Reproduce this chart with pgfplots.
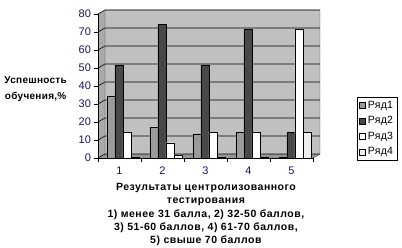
\documentclass[border=0pt]{standalone}
\usepackage{fontspec}
\setmainfont{Liberation Sans}
\usepackage{pgfplots}
\pgfplotsset{compat=1.18}
\definecolor{navy}{RGB}{20,20,100}
\definecolor{wallc}{RGB}{192,192,192}
\definecolor{sidec}{RGB}{170,170,170}
\definecolor{floorc}{RGB}{150,150,150}
\definecolor{s1}{RGB}{155,155,155}
\definecolor{s2}{RGB}{72,72,72}
\definecolor{s3}{RGB}{255,255,255}
\definecolor{s4}{RGB}{238,238,238}
\begin{document}
\begin{tikzpicture}[x=1pt,y=1pt]
\path[use as bounding box] (0,0) rectangle (402,247);
% 3D walls
\fill[wallc] (105,93) rectangle (320,237);
\fill[sidec] (98,89) -- (105,93) -- (105,237) -- (98,233) -- cycle;
\fill[floorc] (98,89) -- (313,89) -- (320,93) -- (105,93) -- cycle;
\foreach \v in {0,...,8} \draw[black, line width=0.6pt] (98,89+18*\v) -- (105,93+18*\v) -- (320,93+18*\v);
\draw[gray!50!black, line width=0.4pt] (105,93) -- (105,237) -- (320,237) -- (320,93) -- (313,89);
\draw[gray!50!black, line width=0.4pt] (98,233) -- (105,237);
\begin{axis}[
  at={(98pt,89pt)}, anchor=south west, scale only axis,
  width=215pt, height=144pt,
  xmin=0.5, xmax=5.5, ymin=0, ymax=80,
  ytick={0,10,...,80},
  xtick={0.5,1.5,...,5.5},
  x tick label as interval,
  xticklabels={1,2,3,4,5},
  axis lines*=left,
  axis line style={black, line width=0.6pt},
  tick align=outside,
  major tick length=3.5pt,
  tick style={black, line width=0.6pt},
  /pgf/number format/assume math mode=true,
  ticklabel style={font=\fontsize{11}{12}\selectfont, text=navy},
  x tick label style={yshift=-2pt},
  ylabel={Успешность\\обучения,\%},
  ylabel style={rotate=-90, at={(axis description cs:-0.29,0.48)}, anchor=center, align=center, font=\bfseries\fontsize{10}{15.5}\selectfont\addfontfeatures{LetterSpace=3}},
  xlabel={Результаты центролизованного\\тестирования\\1) менее 31 балла, 2) 32-50 баллов,\\3) 51-60 баллов, 4) 61-70 баллов,\\5) свыше 70 баллов},
  xlabel style={at={(axis description cs:0.502,-0.393)}, anchor=center, align=center, font=\bfseries\fontsize{10.5}{13.3}\selectfont\addfontfeatures{LetterSpace=5}},
  ybar, bar width=8pt,
  legend image code/.code={\draw[#1,/tikz/.cd,line width=0.5pt] (0pt,-3pt) rectangle (6pt,3pt);},
  legend style={at={(axis description cs:1.2047,0.4236)}, anchor=north west,
    draw=black, line width=0.6pt, font=\fontsize{10.5}{12}\selectfont\addfontfeatures{LetterSpace=3},
    row sep=2.6pt, inner xsep=1.5pt, inner ysep=2pt, cells={anchor=west},
    nodes={inner xsep=2.5pt}},
]
\addplot[bar shift=-8.5pt, draw=black, line width=0.4pt, fill=s1] coordinates {(1,34.4) (2,17.2) (3,13.5) (4,14.4) (5,0.3)};
\addplot[bar shift=-0.5pt, draw=black, line width=0.4pt, fill=s2] coordinates {(1,51.7) (2,74.3) (3,51.7) (4,71.3) (5,14.4)};
\addplot[bar shift=7.5pt, draw=black, line width=0.4pt, fill=s3] coordinates {(1,14.4) (2,8.5) (3,14.4) (4,14.4) (5,71.3)};
\addplot[bar shift=15.5pt, draw=black, line width=0.4pt, fill=s4] coordinates {(1,0.5) (2,1.7) (3,0.3) (4,0.3) (5,14.4)};
\legend{Ряд1,Ряд2,Ряд3,Ряд4}
\end{axis}
\end{tikzpicture}
\end{document}
